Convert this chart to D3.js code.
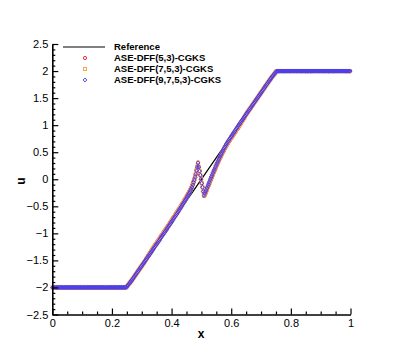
<!DOCTYPE html>
<html><head><meta charset="utf-8">
<script src="https://cdn.jsdelivr.net/npm/d3@7/dist/d3.min.js"></script>
<style>body{margin:0;background:#fff}svg{display:block}text{font-family:"Liberation Sans",Arial,sans-serif}</style>
</head><body>
<script>
// ---- data ----
const nCells = 400;               // cell-centred grid on [0,1]
const refX = [0, 0.25, 0.75, 1];
const refU = [-2, -2, 2, 2];
const xTicks = [0, 0.2, 0.4, 0.6, 0.8, 1];
const yTicks = [-2.5, -2, -1.5, -1, -0.5, 0, 0.5, 1, 1.5, 2, 2.5];
const seriesNames = ["ASE-DFF(5,3)-CGKS", "ASE-DFF(7,5,3)-CGKS", "ASE-DFF(9,7,5,3)-CGKS"];
const uRed = [
-2,-2,-2,-2,-2,-2,-2,-2,-2,-2,-2,-2,-2,-2,-2,-2,-2,-2,-2,-2,
-2,-2,-2,-2,-2,-2,-2,-2,-2,-2,-2,-2,-2,-2,-2,-2,-2,-2,-2,-2,
-2,-2,-2,-2,-2,-2,-2,-2,-2,-2,-2,-2,-2,-2,-2,-2,-2,-2,-2,-2,
-2,-2,-2,-2,-2,-2,-2,-2,-2,-2,-2,-2,-2,-2,-2,-2,-2,-2,-2,-2,
-2,-2,-2,-2,-2,-2,-2,-2,-2,-2,-2,-2,-2,-2,-2,-2,-2,-2,-2,-1.995,
-1.975,-1.955,-1.94,-1.922,-1.905,-1.887,-1.868,-1.85,-1.83,-1.81,-1.79,-1.77,-1.75,-1.73,-1.71,-1.69,-1.67,-1.65,-1.63,-1.61,
-1.59,-1.57,-1.55,-1.53,-1.51,-1.485,-1.46,-1.44,-1.415,-1.395,-1.37,-1.35,-1.325,-1.305,-1.28,-1.26,-1.24,-1.22,-1.20,-1.18,
-1.16,-1.14,-1.12,-1.10,-1.075,-1.055,-1.035,-1.015,-0.995,-0.975,-0.955,-0.934,-0.914,-0.893,-0.872,-0.852,-0.831,-0.811,-0.79,-0.769,
-0.748,-0.727,-0.706,-0.685,-0.663,-0.642,-0.621,-0.60,-0.578,-0.557,-0.535,-0.513,-0.491,-0.469,-0.446,-0.424,-0.401,-0.378,-0.355,-0.331,
-0.306,-0.281,-0.255,-0.23,-0.21,-0.182,-0.15,-0.115,-0.075,-0.04,0.005,0.055,0.11,0.175,0.245,0.31,0.23,0.155,0.08,0.005,
-0.07,-0.145,-0.225,-0.31,-0.30,-0.265,-0.23,-0.195,-0.16,-0.125,-0.09,-0.055,-0.02,0.015,0.05,0.085,0.118,0.151,0.184,0.216,
0.248,0.279,0.31,0.341,0.371,0.40,0.429,0.457,0.485,0.512,0.539,0.565,0.591,0.616,0.639,0.661,0.683,0.704,0.725,0.746,
0.766,0.787,0.808,0.829,0.85,0.871,0.892,0.913,0.933,0.955,0.975,1.00,1.02,1.045,1.065,1.09,1.11,1.135,1.16,1.185,
1.21,1.23,1.25,1.27,1.29,1.31,1.33,1.35,1.37,1.39,1.41,1.43,1.45,1.47,1.49,1.51,1.53,1.55,1.57,1.59,
1.61,1.63,1.65,1.67,1.69,1.71,1.73,1.75,1.77,1.79,1.81,1.83,1.85,1.868,1.887,1.905,1.922,1.94,1.955,1.975,
1.995,2,2,2,2,2,2,2,2,2,2,2,2,2,2,2,2,2,2,2,
2,2,2,2,2,2,2,2,2,2,2,2,2,2,2,2,2,2,2,2,
2,2,2,2,2,2,2,2,2,2,2,2,2,2,2,2,2,2,2,2,
2,2,2,2,2,2,2,2,2,2,2,2,2,2,2,2,2,2,2,2,
2,2,2,2,2,2,2,2,2,2,2,2,2,2,2,2,2,2,2,2];
const uOrange = [
-2,-2,-2,-2,-2,-2,-2,-2,-2,-2,-2,-2,-2,-2,-2,-2,-2,-2,-2,-2,
-2,-2,-2,-2,-2,-2,-2,-2,-2,-2,-2,-2,-2,-2,-2,-2,-2,-2,-2,-2,
-2,-2,-2,-2,-2,-2,-2,-2,-2,-2,-2,-2,-2,-2,-2,-2,-2,-2,-2,-2,
-2,-2,-2,-2,-2,-2,-2,-2,-2,-2,-2,-2,-2,-2,-2,-2,-2,-2,-2,-2,
-2,-2,-2,-2,-2,-2,-2,-2,-2,-2,-2,-2,-2,-2,-2,-2,-2,-2,-2,-1.995,
-1.975,-1.955,-1.94,-1.922,-1.905,-1.887,-1.868,-1.85,-1.83,-1.81,-1.79,-1.77,-1.75,-1.73,-1.71,-1.69,-1.67,-1.65,-1.63,-1.61,
-1.59,-1.57,-1.55,-1.53,-1.51,-1.488,-1.465,-1.445,-1.423,-1.403,-1.38,-1.36,-1.338,-1.318,-1.295,-1.275,-1.255,-1.235,-1.215,-1.195,
-1.175,-1.155,-1.135,-1.115,-1.09,-1.07,-1.05,-1.03,-1.01,-0.99,-0.97,-0.949,-0.929,-0.908,-0.887,-0.867,-0.846,-0.826,-0.805,-0.784,
-0.763,-0.742,-0.721,-0.70,-0.678,-0.657,-0.636,-0.615,-0.593,-0.572,-0.55,-0.528,-0.506,-0.484,-0.461,-0.439,-0.416,-0.393,-0.37,-0.346,
-0.321,-0.296,-0.27,-0.245,-0.225,-0.197,-0.165,-0.13,-0.09,-0.05,-0.005,0.045,0.10,0.165,0.235,0.305,0.228,0.152,0.078,0.002,
-0.072,-0.148,-0.225,-0.305,-0.283,-0.248,-0.213,-0.178,-0.143,-0.108,-0.073,-0.038,-0.003,0.033,0.068,0.103,0.136,0.169,0.202,0.234,
0.266,0.297,0.328,0.359,0.389,0.418,0.447,0.475,0.503,0.53,0.557,0.583,0.609,0.634,0.657,0.679,0.701,0.722,0.743,0.764,
0.784,0.805,0.826,0.847,0.868,0.889,0.91,0.931,0.951,0.973,0.993,1.015,1.035,1.058,1.078,1.10,1.12,1.143,1.165,1.188,
1.21,1.23,1.25,1.27,1.29,1.31,1.33,1.35,1.37,1.39,1.41,1.43,1.45,1.47,1.49,1.51,1.53,1.55,1.57,1.59,
1.61,1.63,1.65,1.67,1.69,1.71,1.73,1.75,1.77,1.79,1.81,1.83,1.85,1.868,1.887,1.905,1.922,1.94,1.955,1.975,
1.995,2,2,2,2,2,2,2,2,2,2,2,2,2,2,2,2,2,2,2,
2,2,2,2,2,2,2,2,2,2,2,2,2,2,2,2,2,2,2,2,
2,2,2,2,2,2,2,2,2,2,2,2,2,2,2,2,2,2,2,2,
2,2,2,2,2,2,2,2,2,2,2,2,2,2,2,2,2,2,2,2,
2,2,2,2,2,2,2,2,2,2,2,2,2,2,2,2,2,2,2,2];
const uBlue = [
-2,-2,-2,-2,-2,-2,-2,-2,-2,-2,-2,-2,-2,-2,-2,-2,-2,-2,-2,-2,
-2,-2,-2,-2,-2,-2,-2,-2,-2,-2,-2,-2,-2,-2,-2,-2,-2,-2,-2,-2,
-2,-2,-2,-2,-2,-2,-2,-2,-2,-2,-2,-2,-2,-2,-2,-2,-2,-2,-2,-2,
-2,-2,-2,-2,-2,-2,-2,-2,-2,-2,-2,-2,-2,-2,-2,-2,-2,-2,-2,-2,
-2,-2,-2,-2,-2,-2,-2,-2,-2,-2,-2,-2,-2,-2,-2,-2,-2,-2,-2,-1.995,
-1.975,-1.955,-1.94,-1.922,-1.905,-1.887,-1.868,-1.85,-1.83,-1.81,-1.79,-1.77,-1.75,-1.73,-1.71,-1.69,-1.67,-1.65,-1.63,-1.61,
-1.59,-1.57,-1.55,-1.53,-1.51,-1.49,-1.47,-1.45,-1.43,-1.41,-1.39,-1.37,-1.35,-1.33,-1.31,-1.29,-1.27,-1.25,-1.23,-1.21,
-1.19,-1.17,-1.15,-1.13,-1.105,-1.085,-1.065,-1.045,-1.025,-1.005,-0.985,-0.964,-0.944,-0.923,-0.902,-0.882,-0.861,-0.841,-0.82,-0.799,
-0.778,-0.757,-0.736,-0.715,-0.693,-0.672,-0.651,-0.63,-0.608,-0.587,-0.565,-0.543,-0.521,-0.499,-0.476,-0.454,-0.431,-0.408,-0.385,-0.361,
-0.336,-0.311,-0.285,-0.26,-0.24,-0.212,-0.18,-0.145,-0.105,-0.06,-0.015,0.035,0.09,0.155,0.225,0.30,0.225,0.15,0.075,0,
-0.075,-0.15,-0.225,-0.30,-0.265,-0.23,-0.195,-0.16,-0.125,-0.09,-0.055,-0.02,0.015,0.05,0.085,0.12,0.153,0.186,0.219,0.251,
0.283,0.314,0.345,0.376,0.406,0.435,0.464,0.492,0.52,0.547,0.574,0.6,0.626,0.651,0.674,0.696,0.718,0.739,0.76,0.781,
0.801,0.822,0.843,0.864,0.885,0.906,0.927,0.948,0.968,0.99,1.01,1.03,1.05,1.07,1.09,1.11,1.13,1.15,1.17,1.19,
1.21,1.23,1.25,1.27,1.29,1.31,1.33,1.35,1.37,1.39,1.41,1.43,1.45,1.47,1.49,1.51,1.53,1.55,1.57,1.59,
1.61,1.63,1.65,1.67,1.69,1.71,1.73,1.75,1.77,1.79,1.81,1.83,1.85,1.868,1.887,1.905,1.922,1.94,1.955,1.975,
1.995,2,2,2,2,2,2,2,2,2,2,2,2,2,2,2,2,2,2,2,
2,2,2,2,2,2,2,2,2,2,2,2,2,2,2,2,2,2,2,2,
2,2,2,2,2,2,2,2,2,2,2,2,2,2,2,2,2,2,2,2,
2,2,2,2,2,2,2,2,2,2,2,2,2,2,2,2,2,2,2,2,
2,2,2,2,2,2,2,2,2,2,2,2,2,2,2,2,2,2,2,2];

// ---- layout ----
const W = 399, H = 355;
const svg = d3.select("body").append("svg").attr("width", W).attr("height", H);
const x = d3.scaleLinear().domain([0, 1]).range([52.3, 350.5]);
const y = d3.scaleLinear().domain([-2.5, 2.5]).range([314.5, 44]);
const xc = d3.range(nCells).map(i => (i + 0.5) / nCells);

// reference line
svg.append("path")
  .datum(refX.map((v, i) => [v, refU[i]]))
  .attr("fill", "none").attr("stroke", "#000").attr("stroke-width", 1.2)
  .attr("d", d3.line().x(d => x(d[0])).y(d => y(d[1])));

const colors = ["#e8333a", "#ffa347", "#4a3ff0"];
const shapes = [
  (g) => g.append("circle").attr("r", 1.6),
  (g) => g.append("rect").attr("x", -1.5).attr("y", -1.5).attr("width", 3).attr("height", 3),
  (g) => g.append("path").attr("d", "M0,-1.9L1.9,0L0,1.9L-1.9,0Z")
];
[uRed, uOrange, uBlue].forEach((arr, k) => {
  const g = svg.append("g").attr("fill", "none").attr("stroke", colors[k]).attr("stroke-width", 1);
  arr.forEach((u, i) => {
    const m = g.append("g").attr("transform", `translate(${x(xc[i])},${y(u)})`);
    shapes[k](m);
  });
});

// axes
const fmt = d => d3.format("")(d);
svg.append("g").attr("transform", `translate(0,${y(-2.5)})`)
  .call(d3.axisBottom(x).tickValues(xTicks).tickFormat(fmt).tickSizeInner(-6).tickSizeOuter(0).tickPadding(5));
svg.append("g").attr("transform", `translate(0,${y(-2.5)})`)
  .call(d3.axisBottom(x).tickValues(d3.range(0, 1.0001, 0.05).filter((v, i) => i % 4 !== 0)).tickFormat("").tickSizeInner(-3).tickSizeOuter(0))
  .select(".domain").remove();
svg.append("g").attr("transform", `translate(${x(0)},0)`)
  .call(d3.axisLeft(y).tickValues(yTicks).tickFormat(fmt).tickSizeInner(-6).tickSizeOuter(0).tickPadding(4));
svg.append("g").attr("transform", `translate(${x(0)},0)`)
  .call(d3.axisLeft(y).tickValues(d3.range(-2.5, 2.5001, 0.1).filter((v, i) => i % 5 !== 0)).tickFormat("").tickSizeInner(-3).tickSizeOuter(0))
  .select(".domain").remove();
svg.selectAll(".domain").attr("stroke-width", 1.6);
svg.selectAll(".tick line").attr("stroke-width", 1.2);
svg.selectAll(".tick text").attr("font-size", 11).attr("font-family", "Liberation Sans, Arial, sans-serif").attr("fill", "#000");

svg.append("text").attr("x", 201).attr("y", 338).attr("text-anchor", "middle")
  .attr("font-size", 12).attr("font-weight", "bold").text("x");
svg.append("text").attr("transform", "translate(25,181) rotate(-90)").attr("text-anchor", "middle")
  .attr("font-size", 12).attr("font-weight", "bold").text("u");

// legend
const lg = svg.append("g");
const rows = [47, 58, 69, 80];
lg.append("line").attr("x1", 63).attr("x2", 105).attr("y1", rows[0]).attr("y2", rows[0])
  .attr("stroke", "#000").attr("stroke-width", 1.2);
lg.append("text").attr("x", 114).attr("y", rows[0] + 3.4).attr("font-size", 9.5).attr("font-weight", "bold").text("Reference");
seriesNames.forEach((s, k) => {
  const m = lg.append("g").attr("transform", `translate(85,${rows[k + 1]})`)
    .attr("fill", "none").attr("stroke", colors[k]).attr("stroke-width", 1);
  shapes[k](m);
  lg.append("text").attr("x", 114).attr("y", rows[k + 1] + 3.4).attr("font-size", 9.5).attr("font-weight", "bold").text(s);
});
</script>
</body></html>
